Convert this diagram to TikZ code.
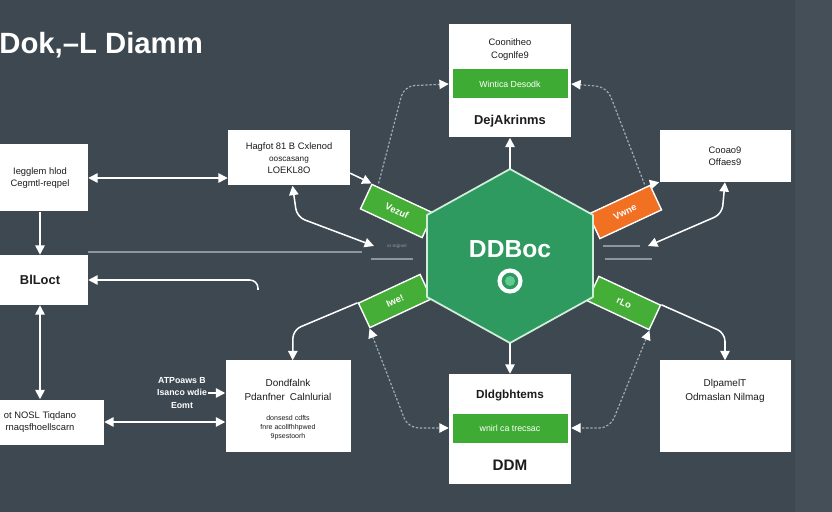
\documentclass[tikz,border=0pt]{standalone}
\usepackage{fontspec}
\setmainfont{Liberation Sans}
\usetikzlibrary{positioning,arrows.meta}

\definecolor{slateBg}{HTML}{3D4850}
\definecolor{slateBand}{HTML}{444F57}
\definecolor{barGreen}{HTML}{3EAC34}
\definecolor{tabGreen}{HTML}{45AE36}
\definecolor{hexGreen}{HTML}{2E9A60}
\definecolor{hexEdge}{HTML}{CDEFD9}
\definecolor{dotGreen}{HTML}{62CC90}
\definecolor{tabOrange}{HTML}{F27022}
\definecolor{dashGray}{HTML}{A3ACB1}
\definecolor{hairGray}{HTML}{8C969C}
\definecolor{inkDark}{HTML}{1C1C1C}

\begin{document}
\begin{tikzpicture}[x=0.03cm, y=-0.03cm,
    every node/.style={font=\fontsize{8}{10}\selectfont, inner sep=1pt},
    box/.style={fill=white, text=inkDark, align=center},
    boxtext/.style={text=inkDark, align=center},
    bar/.style={fill=barGreen, text=white, minimum width=115*\pxlen, minimum height=29*\pxlen, font=\fontsize{7.5}{9}\selectfont},
    tabbox/.style={draw=white, line width=1.2pt, minimum width=68*\pxlen, minimum height=27*\pxlen, text=white, font=\fontsize{8}{9}\selectfont\bfseries},
    note/.style={text=white, align=center, font=\fontsize{7.5}{10.5}\selectfont\bfseries},
    link/.style={draw=white, line width=1.3pt, rounded corners=7pt, >={Triangle[length=8pt, width=8pt]}},
    dashlink/.style={draw=dashGray, line width=1pt, dash pattern=on 2pt off 1.5pt, rounded corners=9pt, >={Triangle[length=8pt, width=8pt, color=white]}},
    hair/.style={draw=hairGray, line width=1pt}]

    % Parameters
    \def\pxlen{0.03cm}

    % Background
    \useasboundingbox (0,0) rectangle (832,512);
    \fill[slateBg] (0,0) rectangle (832,512);
    \fill[slateBand] (795,0) rectangle (832,512);

    % Title
    \node[text=white, anchor=west, font=\fontsize{25}{28}\selectfont\bfseries] (title) at (-2,45) {Dok,–L Diamm};

    % Tabs round the hexagon
    \foreach \name/\x/\y/\ang/\col/\txt in {tabUL/397/211/-25/tabGreen/Vezuf, tabUR/625/212/25/tabOrange/Vwne, tabLL/395/301/25/tabGreen/Iwe!, tabLR/624/303/-25/tabGreen/rLo} {
            \node[tabbox, fill=\col, rotate=\ang] (\name) at (\x,\y) {\txt};
        }

    % Hexagon
    \draw[fill=hexGreen, draw=hexEdge, line width=1.5pt, line join=round] (510,169) -- (593,215) -- (593,297) -- (510,343) -- (427,297) -- (427,215) -- cycle;
    \coordinate (hexT) at (510,169);
    \coordinate (hexB) at (510,343);
    \node[text=white, font=\fontsize{21}{24}\selectfont\bfseries] (hexLabel) at (510,249) {DDBoc};
    \node[circle, draw=white, line width=3.5pt, fill=hexGreen, minimum size=21*\pxlen, inner sep=0pt] (target) at (510,281) {};
    \fill[dotGreen] (target.center) circle (5);

    % Boxes
    \node[box, minimum width=96*\pxlen, minimum height=67*\pxlen] (leftTop) at (40,178) {Iegglem hlod\\Cegmtl-reqpel};
    \node[box, minimum width=96*\pxlen, minimum height=50*\pxlen, font=\fontsize{11}{13}\selectfont\bfseries] (blocBox) at (40,280) {BlLoct};
    \node[box, minimum width=128*\pxlen, minimum height=45*\pxlen] (leftBot) at (40,422) {ot NOSL Tiqdano\\rnaqsfhoellscarn};
    \node[box, minimum width=122*\pxlen, minimum height=55*\pxlen] (midTop) at (289,158) {Hagfot 81 B Cxlenod\\{\fontsize{7}{8}\selectfont ooscasang}\\LOEKL8O};
    \node[box, minimum width=125*\pxlen, minimum height=91*\pxlen] (midBot) at (288,406) {};
    \node[box, minimum width=131*\pxlen, minimum height=52*\pxlen] (rightTop) at (725,156) {Cooao9\\Offaes9};
    \node[box, minimum width=131*\pxlen, minimum height=91*\pxlen] (rightBot) at (725,406) {};
    \node[box, minimum width=122*\pxlen, minimum height=113*\pxlen] (topStack) at (510,81) {};
    \node[box, minimum width=122*\pxlen, minimum height=110*\pxlen] (botStack) at (510,429) {};
    \node[note] (noteL) at (182,393) {ATPoaws B\\Isanco wdie\\Eomt};

    % Box contents
    \node[boxtext, font=\fontsize{8.5}{12}\selectfont, below=15pt of midBot.north] (midBotHead) {Dondfalnk\\Pdanfner\enspace Calnlurial};
    \node[boxtext, font=\fontsize{6}{7.7}\selectfont, below=10pt of midBotHead] (midBotNote) {donsesd cdfts\\fnre acollfhhpwed\\9psestoorh};
    \node[boxtext, font=\fontsize{8.5}{12}\selectfont, below=15pt of rightBot.north] (rightBotHead) {DlpamelT\\Odmaslan Nilmag};
    \node[bar] (topBar) at (510,84) {Wintica Desodk};
    \node[boxtext, font=\fontsize{8}{11}\selectfont, above=6pt of topBar] (topHead) {Coonitheo\\Cognlfe9};
    \node[boxtext, font=\fontsize{11}{13}\selectfont\bfseries, below=13pt of topBar] (topFoot) {DejAkrinms};
    \node[bar] (botBar) at (510,428) {wnirl ca trecsac};
    \node[boxtext, font=\fontsize{10}{12}\selectfont\bfseries, above=9pt of botBar] (botHead) {Dldgbhtems};
    \node[boxtext, font=\fontsize{13}{15}\selectfont\bfseries, below=13.5pt of botBar] (botFoot) {DDM};

    % Small marks beside the hexagon
    \node[text=hairGray, font=\fontsize{4}{5}\selectfont] (tinyL) at (397,246) {ar eqpoel};
    \draw[hair] (371,259) -- (413,259);
    \draw[hair] (603,246) -- (640,246);
    \draw[hair] (605,259) -- (652,259);

    % Connectors on the left
    \draw[link,<->] (leftTop.east) -- (leftTop.east -| midTop.west);
    \draw[link,->] (leftTop) -- (blocBox);
    \draw[link,<->] (blocBox) -- (leftBot);
    \draw[link,<->] (leftBot.east) -- (leftBot.east -| midBot.west);
    \draw[link,->] (noteL) -- (noteL -| midBot.west);
    \coordinate (elbowL) at (258,290);
    \draw[link,->] (elbowL) |- (blocBox.east);
    \coordinate (hairR) at (362,252);
    \draw[hair] (blocBox.north east |- hairR) -- (hairR);

    % Connectors round the hexagon
    \coordinate (hexInL) at (374,246);
    \coordinate (hexInR) at (648,246);
    \draw[link,<->] ([xshift=3pt]midTop.south) -- (297,217) -- (hexInL);
    \draw[link,->] ([yshift=-13pt]midTop.east) -- (tabUL.north west);
    \draw[dashlink,->] ([xshift=6pt]tabUL.north west) -- (404,86) -- (topStack.west |- topBar);
    \draw[link,->] (hexT) -- (topStack);
    \draw[link,->] (hexB) -- (botStack);
    \draw[dashlink,->] ([xshift=-5pt]tabUR.north east) -- (607,87) -- (topStack.east |- topBar);
    \draw[link,->] (tabUR.north east) -- (rightTop.south west);
    \draw[link,<->] (rightTop.south) -- (722,214) -- (hexInR);
    \draw[link,->] (tabLR.north east) -- (725,333) -- (rightBot.north);
    \draw[dashlink,<->] (tabLR.south east) -- (610,428) -- (botStack.east |- botBar);
    \draw[dashlink,<->] (tabLL.south west) -- (408,428) -- (botStack.west |- botBar);
    \draw[link,->] (tabLL.north west) -- (293,330) -- ([xshift=4pt]midBot.north);
\end{tikzpicture}
\end{document}
